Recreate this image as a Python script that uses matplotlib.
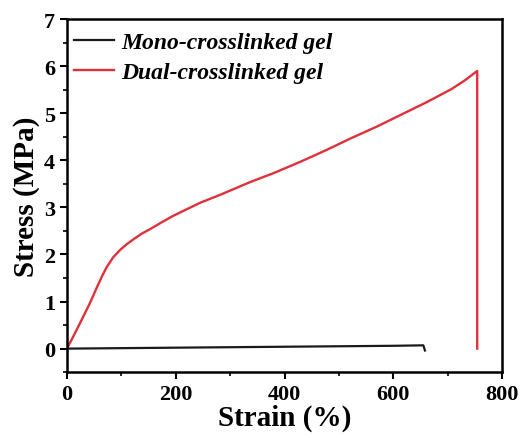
import matplotlib.pyplot as plt
from matplotlib.ticker import MultipleLocator

# Tensile stress-strain data
mono_strain = [0, 100, 200, 300, 400, 500, 600, 655, 658]
mono_stress = [0.0, 0.01, 0.02, 0.03, 0.04, 0.05, 0.06, 0.07, -0.04]

dual_strain = [0, 10, 24, 42, 55, 65, 73, 85, 98, 110, 122, 137, 153, 172, 195,
               220, 245, 282, 337, 380, 429, 475, 522, 570, 614, 660, 706,
               730, 754, 754]
dual_stress = [0.0, 0.22, 0.54, 0.96, 1.3, 1.55, 1.73, 1.94, 2.1, 2.22, 2.32,
               2.44, 2.54, 2.67, 2.82, 2.96, 3.1, 3.27, 3.54, 3.73, 3.97, 4.21,
               4.47, 4.72, 4.97, 5.23, 5.51, 5.69, 5.9, 0.0]

plt.rcParams['font.family'] = ['Liberation Serif', 'DejaVu Serif']
plt.rcParams['font.weight'] = 'bold'

fig = plt.figure(figsize=(5.27, 4.39), dpi=100)
ax = fig.add_axes([0.127, 0.150, 0.826, 0.804])

ax.plot(mono_strain, mono_stress, color='#1a1a1a', lw=1.6, label='Mono-crosslinked gel')
ax.plot(dual_strain, dual_stress, color='#e0303a', lw=1.7, label='Dual-crosslinked gel')

ax.set_xlim(0, 800)
ax.set_ylim(-0.5, 7)
ax.xaxis.set_major_locator(MultipleLocator(200))
ax.xaxis.set_minor_locator(MultipleLocator(100))
ax.yaxis.set_major_locator(MultipleLocator(1))
ax.yaxis.set_minor_locator(MultipleLocator(0.5))
ax.tick_params(which='major', direction='out', length=5, width=1.5, labelsize=16)
ax.tick_params(which='minor', direction='out', length=3, width=1.2)
for s in ax.spines.values():
    s.set_linewidth(1.8)

ax.set_xlabel('Strain (%)', fontsize=21, fontweight='bold', labelpad=0)
ax.set_ylabel('Stress (MPa)', fontsize=21, fontweight='bold', labelpad=3)

leg = ax.legend(loc='upper left', bbox_to_anchor=(0.0, 0.985), frameon=False,
                handlelength=1.7, handletextpad=0.3, borderaxespad=0.1,
                borderpad=0.2, labelspacing=0.35,
                prop={'size': 17, 'style': 'italic', 'weight': 'bold'})

fig.savefig('out.png', dpi=100)
